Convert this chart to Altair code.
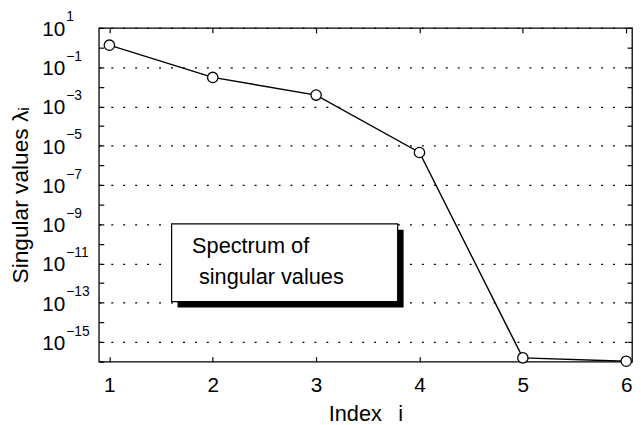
import altair as alt
import pandas as pd

# ---- data ----
index = [1, 2, 3, 4, 5, 6]
singular_values = [1.32, 0.030, 0.0038, 4.5e-6, 1.55e-16, 1.05e-16]

x_ticks = [1, 2, 3, 4, 5, 6]
tick_decades = list(range(1, -17, -1))          # ticks at every decade
label_decades = list(range(1, -16, -2))         # labelled decades 10^1 ... 10^-15
exp_labels = ["1", "\u22121", "\u22123", "\u22125", "\u22127", "\u22129",
              "\u221211", "\u221213", "\u221215"]

# annotation box (data coordinates)
box_x = [1.602, 3.789]
box_y = [1.035e-9, 1.15e-13]
note_lines = ["Spectrum of", "singular values"]
note_x = [1.80, 1.866]
note_y = [3.47e-11, 8.9e-13]

FONT = "Liberation Sans"
W, H = 540, 338

df = pd.DataFrame({"index": index, "sv": singular_values})
exp_df = pd.DataFrame({"val": [10.0 ** k for k in label_decades], "lab": exp_labels})
box_df = pd.DataFrame({"x1": [box_x[0]], "x2": [box_x[1]], "y1": [box_y[0]], "y2": [box_y[1]]})
note_df = pd.DataFrame({"t": note_lines, "x": note_x, "y": note_y})

xs = alt.Scale(domain=[0.898, 6.056], nice=False, zero=False)
ys = alt.Scale(type="log", domain=[1e-16, 10], nice=False)

tick_vals = [10.0 ** k for k in tick_decades]
label_vals = [10.0 ** k for k in label_decades]

tick_props = dict(labels=False, ticks=True, tickSize=5, tickColor="black",
                  tickWidth=1.2, domain=False, grid=False, title=None)

main = alt.Chart(df).mark_line(
    color="black", strokeWidth=1.4,
    point=alt.OverlayMarkDef(filled=True, fill="white", stroke="black",
                             strokeWidth=1.3, size=110, opacity=1),
).encode(
    x=alt.X("index:Q", scale=xs, axis=alt.Axis(
        orient="bottom", values=x_ticks, format="d", ticks=False, tickSize=0,
        labelPadding=30, labelBaseline="alphabetic", labelFontSize=21,
        domain=False, grid=False,
        title="Index\u00a0\u00a0\u2009i", titleFontSize=22, titleX=W / 2,
        titleY=59.5, titleBaseline="alphabetic", titleAlign="center")),
    y=alt.Y("sv:Q", scale=ys, axis=alt.Axis(
        orient="left", values=label_vals, labelExpr="'10'", ticks=False,
        tickSize=0, labelPadding=34.5, labelAlign="right",
        labelBaseline="alphabetic", labelOffset=7.5, labelFontSize=21,
        domain=False, grid=True, gridDash=[2, 10.1], gridColor="black",
        gridWidth=1.3,
        title="Singular values \u03bb\u1d62", titleFontSize=23,
        titleX=-72, titleY=H / 2, titleAngle=270,
        titleBaseline="alphabetic", titleAlign="center")),
)

base = alt.Chart(df).mark_point(opacity=0)
ticks_a = base.encode(
    x=alt.X("index:Q", scale=xs,
            axis=alt.Axis(orient="top", offset=-H, values=x_ticks, **tick_props)),
    y=alt.Y("sv:Q", scale=ys,
            axis=alt.Axis(orient="right", offset=-W, values=tick_vals, **tick_props)),
)
ticks_b = base.encode(
    x=alt.X("index:Q", scale=xs,
            axis=alt.Axis(orient="bottom", offset=-H, values=x_ticks, **tick_props)),
    y=alt.Y("sv:Q", scale=ys,
            axis=alt.Axis(orient="left", offset=-W, values=tick_vals, **tick_props)),
)

exps = alt.Chart(exp_df).mark_text(
    align="left", baseline="alphabetic", dy=-6.5, fontSize=14, font=FONT, color="black"
).encode(
    x=alt.value(-33),
    y=alt.Y("val:Q", scale=ys, axis=None),
    text="lab:N",
)

shadow = alt.Chart(box_df).mark_rect(
    fill="black", xOffset=6, x2Offset=6, yOffset=6, y2Offset=6
).encode(
    x=alt.X("x1:Q", scale=xs, axis=None), x2="x2:Q",
    y=alt.Y("y1:Q", scale=ys, axis=None), y2="y2:Q",
)
box = alt.Chart(box_df).mark_rect(
    fill="white", stroke="black", strokeWidth=1.2
).encode(
    x=alt.X("x1:Q", scale=xs, axis=None), x2="x2:Q",
    y=alt.Y("y1:Q", scale=ys, axis=None), y2="y2:Q",
)
note = alt.Chart(note_df).mark_text(
    align="left", baseline="alphabetic", fontSize=22, font=FONT, color="black"
).encode(
    x=alt.X("x:Q", scale=xs, axis=None),
    y=alt.Y("y:Q", scale=ys, axis=None),
    text="t:N",
)

chart = alt.layer(ticks_a, ticks_b, main, shadow, box, note, exps).resolve_axis(
    x="independent", y="independent"
).properties(
    width=W, height=H,
    autosize=alt.AutoSizeParams(type="none"),
    padding={"left": 92, "top": 17.5, "right": 1, "bottom": 61.5},
    background="white",
).configure_view(
    stroke="black", strokeWidth=1.3
).configure_axis(
    labelFont=FONT, titleFont=FONT, labelColor="black", titleColor="black",
    titleFontWeight="normal",
)

chart.save("out.html", embed_options={"renderer": "svg", "actions": False})
